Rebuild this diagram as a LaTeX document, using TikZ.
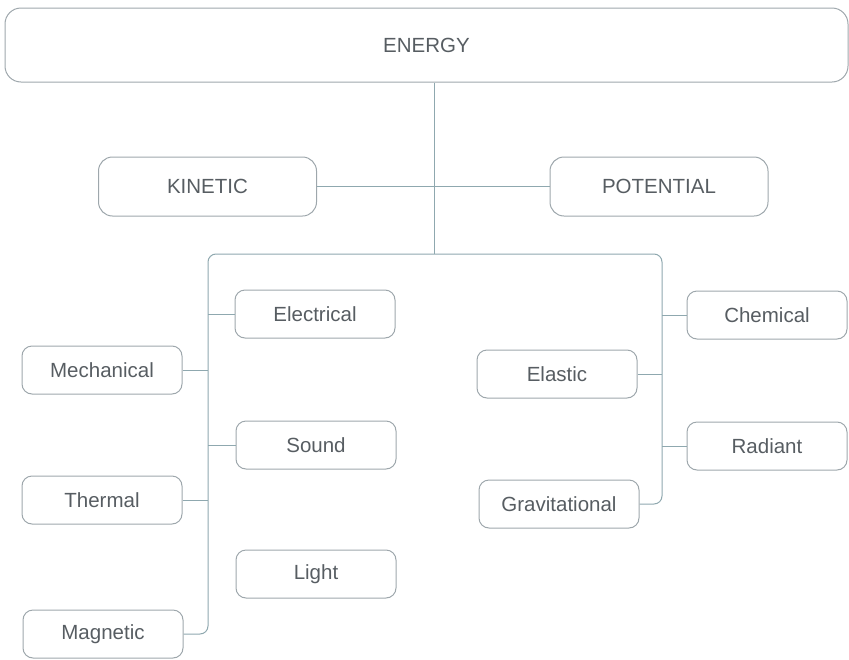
\documentclass[tikz,border=0pt]{standalone}
\usepackage{fontspec}
\setmainfont{Liberation Sans}
\usetikzlibrary{positioning}
\definecolor{boxline}{HTML}{9EA7AC}
\definecolor{linkline}{HTML}{8FA8AF}
\definecolor{labeltext}{HTML}{575D62}
\tikzset{
  box/.style={draw=boxline, line width=1pt, rounded corners=10pt,
    text=labeltext, font=\fontsize{20.5}{24}\selectfont,
    minimum width=160pt, minimum height=48pt, inner sep=0pt},
  bigbox/.style={box, rounded corners=14pt,
    minimum width=218pt, minimum height=59pt},
  link/.style={draw=linkline, line width=1pt},
}

\begin{document}
\begin{tikzpicture}[x=1pt, y=-1pt]
    \useasboundingbox (0,0) rectangle (849,659);

    % Define the top levels
    \node[box, rounded corners=16pt, minimum width=843pt, minimum height=74pt] (energy) at (426.5,45) {ENERGY};
    \node[bigbox] (kinetic) at (207.5,186.5) {KINETIC};
    \node[bigbox] (potential) at (659,186.5) {POTENTIAL};

    % Define the forms of energy
    \node[box] (mechanical) at (102,370) {Mechanical};
    \node[box] (thermal) at (102,500) {Thermal};
    \node[box] (magnetic) at (103,634) {Magnetic};
    \node[box] (electrical) at (315,314) {Electrical};
    \node[box] (sound) at (316,445) {Sound};
    \node[box] (light) at (316,574) {Light};
    \node[box] (elastic) at (557,374) {Elastic};
    \node[box] (gravitational) at (559,504) {Gravitational};
    \node[box] (chemical) at (767,315) {Chemical};
    \node[box] (radiant) at (767,446) {Radiant};

    % Define the branch points
    \coordinate (hub) at (434,254);
    \coordinate (leftbar) at (208,254);
    \coordinate (rightbar) at (662,254);

    % Draw the trunk and the bar
    \draw[link] (energy.south -| hub) -- (hub);
    \draw[link] (kinetic) -- (potential);
    \draw[link, rounded corners=8pt] (magnetic.east) -| (leftbar) -- (rightbar) |- (gravitational.east);

    % Draw the branches
    \foreach \n in {mechanical, thermal}
      \draw[link] (\n.east) -- (\n.east -| leftbar);
    \foreach \n in {electrical, sound}
      \draw[link] (\n.west) -- (\n.west -| leftbar);
    \foreach \n in {elastic}
      \draw[link] (\n.east) -- (\n.east -| rightbar);
    \foreach \n in {chemical, radiant}
      \draw[link] (\n.west) -- (\n.west -| rightbar);
\end{tikzpicture}
\end{document}
